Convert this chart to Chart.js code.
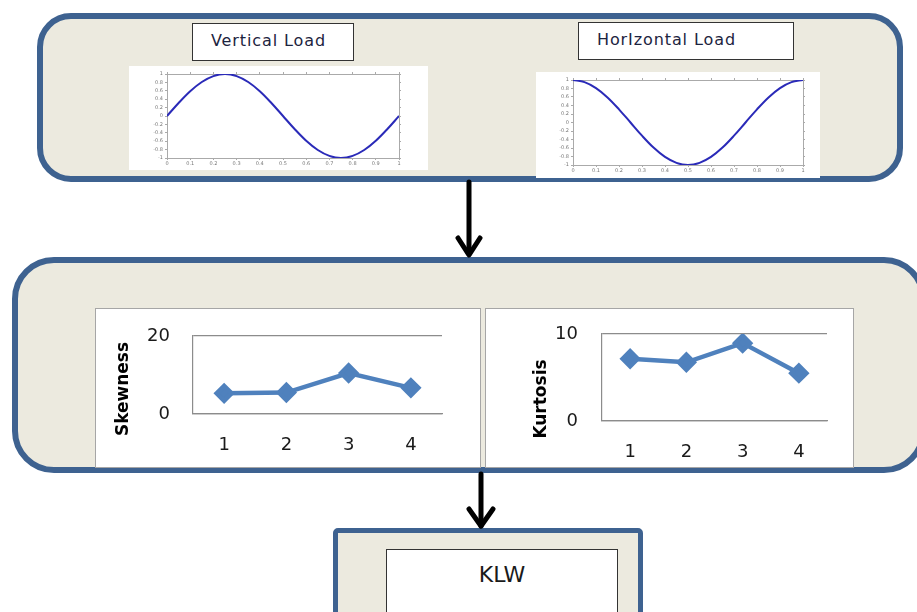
<!DOCTYPE html>
<html>
<head>
<meta charset="utf-8">
<script src="https://cdn.jsdelivr.net/npm/chart.js@4/dist/chart.umd.min.js"></script>
<style>
  html, body { margin: 0; padding: 0; background: #fff; width: 917px; height: 612px; overflow: hidden; }
  body { position: relative; font-family: "DejaVu Sans", sans-serif; }
  .abs { position: absolute; box-sizing: border-box; }
  .stage { background: #eceadf; border: 6px solid #3e6290; }
  .label { background: #fff; border: 1.5px solid #333; font-size: 16px; letter-spacing: 0.9px; color: #1c2440; line-height: 34px; padding-left: 18px; }
  .panel { background: #fff; }
  .gpanel { background: #fff; border: 1px solid #a6a6a6; }
  canvas { position: absolute; left: 0; top: 0; }
</style>
</head>
<body>

<!-- top stage: load signals -->
<div class="abs stage" style="left:37px; top:13px; width:866px; height:169px; border-radius:34px;"></div>
<div class="abs label" style="left:192px; top:23px; width:162px; height:38px;">Vertical Load</div>
<div class="abs label" style="left:578px; top:22px; width:216px; height:38px;">HorIzontal Load</div>
<div class="abs panel" style="left:129px; top:66px; width:299px; height:104px;"><canvas id="vertChart" width="299" height="104"></canvas></div>
<div class="abs panel" style="left:536px; top:72px; width:284px; height:106px;"><canvas id="horzChart" width="284" height="106"></canvas></div>

<!-- middle stage: statistics -->
<div class="abs stage" style="left:12px; top:257px; width:914px; height:216px; border-radius:42px;"></div>
<div class="abs gpanel" style="left:95px; top:308px; width:386px; height:160px;"><canvas id="skewChart" width="384" height="158"></canvas></div>
<div class="abs gpanel" style="left:485px; top:308px; width:369px; height:160px;"><canvas id="kurtChart" width="367" height="158"></canvas></div>

<!-- bottom stage: output -->
<div class="abs stage" style="left:333px; top:528px; width:310px; height:110px; border-radius:5px; border-width:5px;"></div>
<div class="abs label" style="left:386px; top:549px; width:232px; height:80px; padding:0; text-align:center; font-size:22px; letter-spacing:0; line-height:50px; color:#1a1a1a;">KLW</div>

<!-- arrows -->
<svg class="abs" style="left:0; top:0;" width="917" height="612">
  <g stroke="#000" stroke-width="5" fill="none" stroke-linecap="round" stroke-linejoin="round">
    <line x1="469" y1="182" x2="469" y2="254"/>
    <polyline points="458,238 469,255 480,238"/>
    <line x1="481" y1="474" x2="481" y2="526"/>
    <polyline points="469,509 481,526 493,509"/>
  </g>
</svg>

<script>
// ── DATA ──────────────────────────────────────────
const sampleX = [0, 0.05, 0.1, 0.15, 0.2, 0.25, 0.3, 0.35, 0.4, 0.45, 0.5,
                 0.55, 0.6, 0.65, 0.7, 0.75, 0.8, 0.85, 0.9, 0.95, 1];
const verticalLoad = [0, 0.31, 0.59, 0.81, 0.95, 1, 0.95, 0.81, 0.59, 0.31, 0,
                      -0.31, -0.59, -0.81, -0.95, -1, -0.95, -0.81, -0.59, -0.31, 0];
const horizontalLoad = [1, 0.95, 0.81, 0.59, 0.31, 0, -0.31, -0.59, -0.81, -0.95, -1,
                        -0.95, -0.81, -0.59, -0.31, 0, 0.31, 0.59, 0.81, 0.95, 1];

const segments = ['1', '2', '3', '4'];
const skewness = [5.3, 5.5, 10.5, 6.7];
const kurtosis = [7.15, 6.75, 8.95, 5.5];

// ── HELPERS ───────────────────────────────────────
const STAT_BLUE = '#4f81bd';
const AXIS_GRAY = '#8c8c8c';

// draws a rotated y title at a fixed spot of the canvas
const sideTitle = {
  id: 'sideTitle',
  afterDraw(chart, args, opts) {
    if (!opts.text) return;
    const ctx = chart.ctx;
    ctx.save();
    ctx.translate(opts.x, opts.y);
    ctx.rotate(-Math.PI / 2);
    ctx.font = 'bold 17px "DejaVu Sans", sans-serif';
    ctx.fillStyle = '#000';
    ctx.textAlign = 'center';
    ctx.textBaseline = 'middle';
    ctx.fillText(opts.text, 0, 0);
    ctx.restore();
  }
};

// pin an axis to a fixed size and drop the label overhang padding
function fixed(size, dim) {
  return s => {
    s[dim] = size;
    s.paddingTop = 0; s.paddingBottom = 0;
    s.paddingLeft = 0; s.paddingRight = 0;
  };
}

const shortNum = v => String(Number(v.toFixed(1)));

function waveChart(id, values, box) {
  const tinyFont = { family: '"DejaVu Sans", sans-serif', size: 5 };
  return new Chart(document.getElementById(id), {
    type: 'line',
    data: {
      datasets: [{
        data: sampleX.map((x, i) => ({ x, y: values[i] })),
        borderColor: '#2a2ab8',
        borderWidth: 2,
        pointRadius: 0,
        tension: 0.35,
      }],
    },
    options: {
      responsive: false,
      animation: false,
      events: [],
      layout: { padding: 0, autoPadding: false },
      plugins: { legend: { display: false }, tooltip: { enabled: false } },
      scales: {
        x: {
          type: 'linear', min: 0, max: 1,
          ticks: { stepSize: 0.1, autoSkip: false, font: tinyFont, color: '#777', padding: 1, maxRotation: 0, callback: shortNum },
          grid: { drawOnChartArea: false, tickLength: 2, color: '#aaa' },
          border: { color: '#aaa' },
          afterFit: fixed(box.bottom, 'height'),
        },
        y: {
          min: -1, max: 1,
          ticks: { stepSize: 0.2, autoSkip: false, font: tinyFont, color: '#777', padding: 2, callback: shortNum },
          grid: { drawOnChartArea: false, tickLength: 2, color: '#aaa' },
          border: { color: '#aaa' },
          afterFit: fixed(box.left, 'width'),
        },
        x2: {
          type: 'linear', position: 'top', min: 0, max: 1,
          ticks: { display: false, stepSize: 0.1 },
          grid: { drawOnChartArea: false, tickLength: 2, color: '#aaa' },
          border: { color: '#aaa' },
          afterFit: fixed(box.top, 'height'),
        },
        y2: {
          position: 'right', min: -1, max: 1,
          ticks: { display: false, stepSize: 0.2 },
          grid: { drawOnChartArea: false, tickLength: 2, color: '#aaa' },
          border: { color: '#aaa' },
          afterFit: fixed(box.right, 'width'),
        },
      },
    },
  });
}

function statChart(id, label, values, yMax, box) {
  const tickFont = { family: '"DejaVu Sans", sans-serif', size: 18 };
  return new Chart(document.getElementById(id), {
    type: 'line',
    data: {
      labels: segments,
      datasets: [{
        label,
        data: values,
        borderColor: STAT_BLUE,
        backgroundColor: STAT_BLUE,
        borderWidth: 4.5,
        pointStyle: 'rectRot',
        pointRadius: 7.5,
        tension: 0,
      }],
    },
    options: {
      responsive: false,
      animation: false,
      events: [],
      layout: { padding: { top: box.top, right: box.right, left: 0, bottom: 0 }, autoPadding: false },
      plugins: {
        legend: { display: false },
        tooltip: { enabled: false },
        sideTitle: { text: label, x: box.titleX, y: box.titleY },
      },
      scales: {
        x: {
          offset: true,
          ticks: { font: tickFont, color: '#1a1a1a', padding: box.xPad },
          grid: { display: false, drawTicks: false },
          border: { color: AXIS_GRAY, width: 1.2 },
          afterFit: fixed(box.bottom, 'height'),
        },
        y: {
          min: 0, max: yMax,
          ticks: { stepSize: yMax, font: tickFont, color: '#1a1a1a', padding: box.yPad },
          grid: { color: AXIS_GRAY, lineWidth: 1.2, drawTicks: false },
          border: { color: AXIS_GRAY, width: 1.2 },
          afterFit: fixed(box.left, 'width'),
        },
      },
    },
    plugins: [sideTitle],
  });
}

// ── BOOT ──────────────────────────────────────────
waveChart('vertChart', verticalLoad, { left: 38, right: 29, top: 8, bottom: 12 });
waveChart('horzChart', horizontalLoad, { left: 37, right: 17, top: 8, bottom: 13 });

statChart('skewChart', 'Skewness', skewness, 20,
  { left: 97, right: 38, top: 27, bottom: 53, yPad: 23, xPad: 21, titleX: 28, titleY: 80 });
statChart('kurtChart', 'Kurtosis', kurtosis, 10,
  { left: 116, right: 26, top: 25, bottom: 46, yPad: 24, xPad: 21, titleX: 56, titleY: 90 });
</script>
</body>
</html>
